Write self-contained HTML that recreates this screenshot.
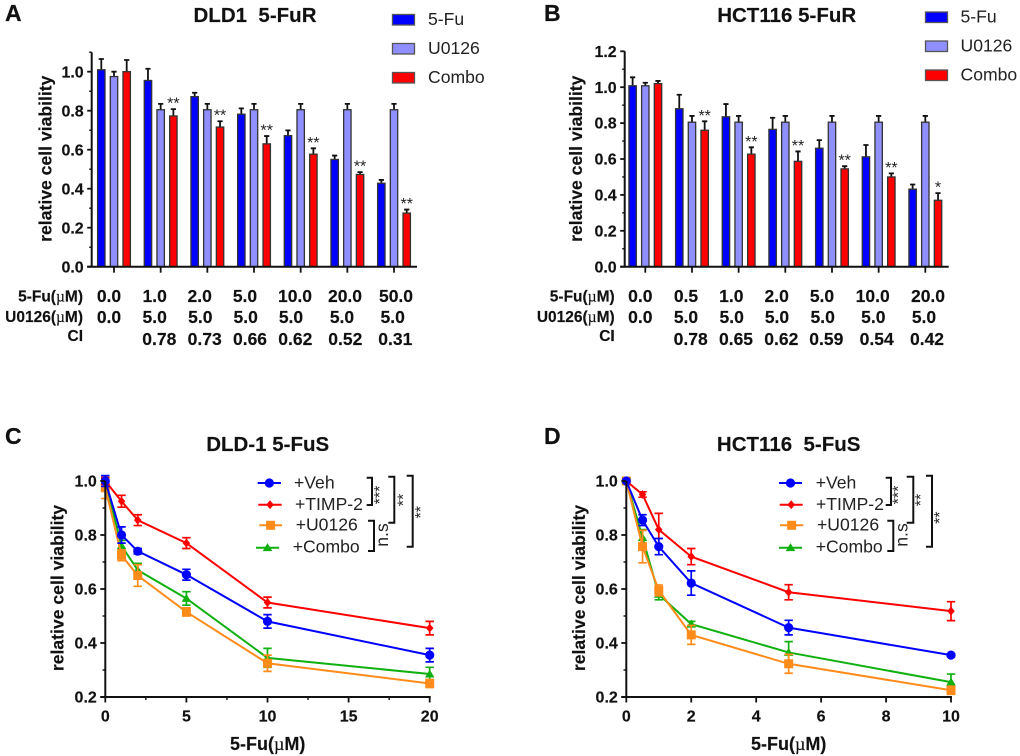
<!DOCTYPE html>
<html lang="en">
<head>
<meta charset="utf-8">
<title>Cell viability charts</title>
<style>
html,body{margin:0;padding:0;background:#fff;}
svg{display:block;font-family:"Liberation Sans",Arial,sans-serif;}
.mu{font-family:"Liberation Serif",serif;font-weight:normal;}
.t{font-size:20.5px;font-weight:bold;text-anchor:middle;fill:#111;stroke:#111;stroke-width:.15;}
.p{font-size:23px;font-weight:bold;fill:#111;stroke:#111;stroke-width:.2;}
.yt{font-size:17.6px;font-weight:bold;text-anchor:middle;fill:#111;stroke:#111;stroke-width:.15;}
.xt{font-size:18px;font-weight:bold;text-anchor:middle;fill:#111;stroke:#111;stroke-width:.15;}
.r{font-size:15.5px;font-weight:bold;text-anchor:end;fill:#111;stroke:#111;stroke-width:.15;}
.c{font-size:17.5px;font-weight:bold;text-anchor:middle;fill:#111;stroke:#111;stroke-width:.15;}
.l{font-size:17.6px;fill:#222;}
.s{font-size:16px;fill:#222;text-anchor:middle;}
.br{fill:none;stroke:#111;stroke-width:2;}
</style>
</head>
<body>
<svg id="figure" xmlns="http://www.w3.org/2000/svg" width="1020" height="756" viewBox="0 0 1020 756">
<rect width="1020" height="756" fill="#fff"/>

<text class="p" x="5" y="21">A</text>
<text class="p" x="544" y="21">B</text>
<text class="p" x="5" y="444">C</text>
<text class="p" x="544" y="444">D</text>

<text class="t" x="255" y="22" style="white-space:pre">DLD1  5-FuR</text>
<text class="t" x="786.7" y="22">HCT116 5-FuR</text>
<text class="t" x="267.7" y="451">DLD-1 5-FuS</text>
<text class="t" x="788.7" y="451" style="white-space:pre">HCT116  5-FuS</text>

<text class="yt" transform="translate(51.7 158.7) rotate(-90)">relative cell viability</text>
<text class="yt" transform="translate(582 158.7) rotate(-90)">relative cell viability</text>
<text class="yt" transform="translate(63.3 588) rotate(-90)">relative cell viability</text>
<text class="yt" transform="translate(585 588) rotate(-90)">relative cell viability</text>

<text class="xt" x="267.7" y="750">5-Fu(<tspan class="mu">µ</tspan>M)</text>
<text class="xt" x="788.7" y="750">5-Fu(<tspan class="mu">µ</tspan>M)</text>

<!-- Panel A legend -->
<g>
<rect x="392.5" y="14.5" width="22" height="10.5" fill="#0000ff" stroke="#555" stroke-width="1.3"/>
<rect x="392.5" y="43.5" width="22" height="10.5" fill="#8f8fff" stroke="#555" stroke-width="1.3"/>
<rect x="392.5" y="72.5" width="22" height="10.5" fill="#ff0000" stroke="#555" stroke-width="1.3"/>
<text class="l" x="428" y="25">5-Fu</text>
<text class="l" x="428" y="54">U0126</text>
<text class="l" x="428" y="83">Combo</text>
</g>

<!-- Panel B legend -->
<g>
<rect x="925.5" y="12" width="22" height="10.5" fill="#0000ff" stroke="#555" stroke-width="1.3"/>
<rect x="925.5" y="41" width="22" height="10.5" fill="#8f8fff" stroke="#555" stroke-width="1.3"/>
<rect x="925.5" y="70" width="22" height="10.5" fill="#ff0000" stroke="#555" stroke-width="1.3"/>
<text class="l" x="960.5" y="22.7">5-Fu</text>
<text class="l" x="960.5" y="51.7">U0126</text>
<text class="l" x="960.5" y="80.7">Combo</text>
</g>

<!-- Panel A dose table -->
<g>
<text class="r" x="83" y="301.5">5-Fu(<tspan class="mu">µ</tspan>M)</text>
<text class="r" x="83" y="322">U0126(<tspan class="mu">µ</tspan>M)</text>
<text class="r" x="83" y="341">CI</text>
<g>
<text class="c" x="109" y="302">0.0</text>
<text class="c" x="154.7" y="302">1.0</text>
<text class="c" x="199.7" y="302">2.0</text>
<text class="c" x="245" y="302">5.0</text>
<text class="c" x="295" y="302">10.0</text>
<text class="c" x="345" y="302">20.0</text>
<text class="c" x="396" y="302">50.0</text>
</g>
<g>
<text class="c" x="109" y="323">0.0</text>
<text class="c" x="154.7" y="323">5.0</text>
<text class="c" x="200.3" y="323">5.0</text>
<text class="c" x="245.7" y="323">5.0</text>
<text class="c" x="291" y="323">5.0</text>
<text class="c" x="342" y="323">5.0</text>
<text class="c" x="392.7" y="323">5.0</text>
</g>
<g>
<text class="c" x="159.3" y="345">0.78</text>
<text class="c" x="204.7" y="345">0.73</text>
<text class="c" x="250" y="345">0.66</text>
<text class="c" x="295.3" y="345">0.62</text>
<text class="c" x="345.3" y="345">0.52</text>
<text class="c" x="395.3" y="345">0.31</text>
</g>
</g>

<!-- Panel B dose table -->
<g>
<text class="r" x="614.7" y="301.5">5-Fu(<tspan class="mu">µ</tspan>M)</text>
<text class="r" x="614.7" y="322">U0126(<tspan class="mu">µ</tspan>M)</text>
<text class="r" x="614.7" y="341">CI</text>
<g>
<text class="c" x="640.3" y="302">0.0</text>
<text class="c" x="686" y="302">0.5</text>
<text class="c" x="731.3" y="302">1.0</text>
<text class="c" x="776.7" y="302">2.0</text>
<text class="c" x="822" y="302">5.0</text>
<text class="c" x="872.7" y="302">10.0</text>
<text class="c" x="928" y="302">20.0</text>
</g>
<g>
<text class="c" x="640.3" y="323">0.0</text>
<text class="c" x="686" y="323">5.0</text>
<text class="c" x="731.7" y="323">5.0</text>
<text class="c" x="777" y="323">5.0</text>
<text class="c" x="822.7" y="323">5.0</text>
<text class="c" x="873.3" y="323">5.0</text>
<text class="c" x="924" y="323">5.0</text>
</g>
<g>
<text class="c" x="690.7" y="345">0.78</text>
<text class="c" x="736" y="345">0.65</text>
<text class="c" x="781.3" y="345">0.62</text>
<text class="c" x="826.3" y="345">0.59</text>
<text class="c" x="876.7" y="345">0.54</text>
<text class="c" x="927" y="345">0.42</text>
</g>
</g>

<!-- Panel C legend labels and brackets -->
<g>
<text class="l" x="294" y="488.7">+Veh</text>
<text class="l" x="295" y="510">+TIMP-2</text>
<text class="l" x="295.7" y="530.7">+U0126</text>
<text class="l" x="292.7" y="552.7">+Combo</text>
</g>
<g>
<path class="br" d="M366.7 477.7H372V505H366.7"/>
<path class="br" d="M388.3 476.7H394.3V522.7H388.3"/>
<path class="br" d="M406.7 475.7H412.7V546.7H406.7"/>
<path class="br" d="M368 520.7H374V551H368"/>
<text class="s" transform="translate(385 495) rotate(-90)">***</text>
<text class="s" transform="translate(408.5 500) rotate(-90)">**</text>
<text class="s" transform="translate(426 512.3) rotate(-90)">**</text>
<text class="l" text-anchor="middle" transform="translate(388 535) rotate(-90)">n.s</text>
</g>

<!-- Panel D legend labels and brackets -->
<g>
<text class="l" x="815.7" y="488.7">+Veh</text>
<text class="l" x="816" y="510">+TIMP-2</text>
<text class="l" x="817" y="530.7">+U0126</text>
<text class="l" x="815.7" y="552.7">+Combo</text>
</g>
<g>
<path class="br" d="M885.7 477.7H891V505H885.7"/>
<path class="br" d="M906.7 476.7H913.3V522.7H906.7"/>
<path class="br" d="M926 475.7H932V546.7H926"/>
<path class="br" d="M887.3 520.7H893.3V551H887.3"/>
<text class="s" transform="translate(903.5 495) rotate(-90)">***</text>
<text class="s" transform="translate(926 500) rotate(-90)">**</text>
<text class="s" transform="translate(945 517.7) rotate(-90)">**</text>
<text class="l" text-anchor="middle" transform="translate(907.3 535) rotate(-90)">n.s</text>
</g>
</svg>

<script>
// Panel A data
const aCategories = ["0.0", "1.0", "2.0", "5.0", "10.0", "20.0", "50.0"];
const aFuValues = [1.01, 0.955, 0.872, 0.782, 0.672, 0.55, 0.428];
const aFuErrors = [0.055, 0.06, 0.02, 0.03, 0.027, 0.02, 0.017];
const aU0126Values = [0.975, 0.805, 0.805, 0.805, 0.805, 0.805, 0.805];
const aU0126Errors = [0.025, 0.03, 0.03, 0.03, 0.03, 0.03, 0.03];
const aComboValues = [1.0, 0.773, 0.716, 0.63, 0.577, 0.473, 0.275];
const aComboErrors = [0.06, 0.035, 0.03, 0.04, 0.03, 0.012, 0.018];
const aStars = ["", "**", "**", "**", "**", "**", "**"];
const aYTicks = ["0.0", "0.2", "0.4", "0.6", "0.8", "1.0"];

// Panel B data
const bCategories = ["0.0", "0.5", "1.0", "2.0", "5.0", "10.0", "20.0"];
const bFuValues = [1.008, 0.88, 0.835, 0.765, 0.66, 0.612, 0.432];
const bFuErrors = [0.047, 0.078, 0.071, 0.065, 0.045, 0.066, 0.026];
const bU0126Values = [1.008, 0.805, 0.805, 0.805, 0.805, 0.805, 0.805];
const bU0126Errors = [0.017, 0.035, 0.035, 0.035, 0.035, 0.035, 0.035];
const bComboValues = [1.02, 0.76, 0.627, 0.587, 0.545, 0.5, 0.37];
const bComboErrors = [0.015, 0.05, 0.038, 0.055, 0.015, 0.02, 0.04];
const bStars = ["", "**", "**", "**", "**", "**", "*"];
const bYTicks = ["0.0", "0.2", "0.4", "0.6", "0.8", "1.0", "1.2"];

// Panel C data
const cDoses = [0, 1, 2, 5, 10, 20];
const cVehValues = [1.0, 0.80, 0.74, 0.653, 0.48, 0.355];
const cVehErrors = [0.02, 0.03, 0.01, 0.02, 0.025, 0.025];
const cTimpValues = [1.0, 0.925, 0.855, 0.77, 0.55, 0.455];
const cTimpErrors = [0.012, 0.022, 0.02, 0.02, 0.02, 0.025];
const cU0126Values = [0.975, 0.725, 0.65, 0.515, 0.325, 0.25];
const cU0126Errors = [0.04, 0.02, 0.04, 0.015, 0.03, 0.015];
const cComboValues = [1.0, 0.76, 0.67, 0.565, 0.345, 0.285];
const cComboErrors = [0.01, 0.02, 0.025, 0.025, 0.035, 0.025];
const cXTicks = [0, 5, 10, 15, 20];
const cXMinorTicks = [2.5, 7.5, 12.5, 17.5];

// Panel D data
const dDoses = [0, 0.5, 1, 2, 5, 10];
const dVehValues = [1.0, 0.855, 0.757, 0.622, 0.457, 0.355];
const dVehErrors = [0.005, 0.02, 0.03, 0.045, 0.027, 0.005];
const dTimpValues = [1.0, 0.95, 0.82, 0.72, 0.588, 0.518];
const dTimpErrors = [0.005, 0.01, 0.06, 0.03, 0.028, 0.035];
const dU0126Values = [1.0, 0.757, 0.595, 0.43, 0.323, 0.225];
const dU0126Errors = [0.005, 0.06, 0.02, 0.035, 0.035, 0.015];
const dComboValues = [1.0, 0.79, 0.58, 0.47, 0.365, 0.255];
const dComboErrors = [0.005, 0.03, 0.02, 0.01, 0.04, 0.03];
const dXTicks = [0, 2, 4, 6, 8, 10];
const dXMinorTicks = [];
const lineYTicks = ["0.2", "0.4", "0.6", "0.8", "1.0"];
const lineYMinorTicks = [0.3, 0.5, 0.7, 0.9];

const NS = "http://www.w3.org/2000/svg";
const figure = document.getElementById("figure");

function make(tag, attrs, parent, text) {
  const el = document.createElementNS(NS, tag);
  for (const k in attrs) el.setAttribute(k, attrs[k]);
  if (text !== undefined) el.textContent = text;
  parent.appendChild(el);
  return el;
}

function drawBarPanel(cfg) {
  const g = make("g", {}, figure);
  
  
  const y = v => cfg.y0 - v * cfg.yScale;
  const x = i => cfg.x0 + i * cfg.step;

  cfg.series.forEach((s, si) => {
    s.values.forEach((v, i) => {
      const bx = x(i) + (si - 1) * 12.7;
      const err = make("path", {
        d: "M" + bx + " " + y(v) + "V" + y(v + s.errors[i]) + "M" + (bx - 2.6) + " " + y(v + s.errors[i]) + "H" + (bx + 2.6),
        stroke: "#111", "stroke-width": 1.8, fill: "none"
      }, g);
      
      
      const bar = make("rect", {
        x: bx - 3.7, y: y(v), width: 7.4, height: cfg.y0 - y(v),
        fill: s.color, stroke: "#333", "stroke-width": 1.3
      }, g);
      
      
      if (s.stars && s.stars[i]) {
        const star = make("text", {
          x: bx, y: y(v + s.errors[i]) - 0.5, "text-anchor": "middle",
          "font-size": 16, fill: "#222"
        }, g, s.stars[i]);
        
        
      }
    });
  });

  const axes = make("path", {
    d: "M" + cfg.axisX + " " + (cfg.y0 + 1) + "V" + y(cfg.yMax) + "M" + (cfg.axisX - 4.5) + " " + cfg.y0 + "H" + cfg.xEnd,
    stroke: "#111", "stroke-width": 2, fill: "none"
  }, g);
  
  

  cfg.yTicks.forEach(label => {
    const v = parseFloat(label);
    const tick = make("path", { d: "M" + (cfg.axisX - 4.5) + " " + y(v) + "H" + cfg.axisX, stroke: "#111", "stroke-width": 1.8 }, g);
    
    
    const t = make("text", { x: cfg.axisX - 8, y: y(v) + 5.6, "text-anchor": "end", "font-size": 16, "font-weight": "bold", fill: "#111", stroke: "#111", "stroke-width": 0.15 }, g, label);
    
    
    const minorV = v + 0.1;
    if (minorV <= cfg.yMax + 0.001) {
      const minor = make("path", { d: "M" + (cfg.axisX - 2.5) + " " + y(minorV) + "H" + cfg.axisX, stroke: "#111", "stroke-width": 1.4 }, g);
      
      
    }
  });

  cfg.categories.forEach((c, i) => {
    const tick = make("path", { d: "M" + x(i) + " " + cfg.y0 + "v6", stroke: "#111", "stroke-width": 1.8 }, g);
    
    
  });
}

function marker(kind, cx, cy, color, parent) {
  let m;
  if (kind === "circle") m = make("circle", { cx: cx, cy: cy, r: 4.6, fill: color }, parent);
  if (kind === "diamond") m = make("path", { d: "M" + cx + " " + (cy - 4.4) + "L" + (cx + 3.8) + " " + cy + "L" + cx + " " + (cy + 4.4) + "L" + (cx - 3.8) + " " + cy + "Z", fill: color }, parent);
  if (kind === "square") m = make("rect", { x: cx - 4.5, y: cy - 4.5, width: 9, height: 9, fill: color }, parent);
  if (kind === "triangle") m = make("path", { d: "M" + cx + " " + (cy - 4.6) + "L" + (cx + 4.8) + " " + (cy + 3.4) + "L" + (cx - 4.8) + " " + (cy + 3.4) + "Z", fill: color }, parent);
  
  
  return m;
}

function drawLinePanel(cfg) {
  const g = make("g", {}, figure);
  
  
  const y = v => cfg.y0 - (v - 0.2) * 270;
  const x = v => cfg.x0 + v * cfg.xScale;

  cfg.series.forEach(s => {
    const sg = make("g", {}, g);
    
    
    const line = make("polyline", {
      points: s.values.map((v, i) => x(cfg.doses[i]) + "," + y(v)).join(" "),
      fill: "none", stroke: s.color, "stroke-width": 2
    }, sg);
    
    
    s.values.forEach((v, i) => {
      const px = x(cfg.doses[i]);
      const hi = y(v + s.errors[i]);
      const lo = y(v - s.errors[i]);
      const err = make("path", {
        d: "M" + px + " " + hi + "V" + lo + "M" + (px - 4.2) + " " + hi + "H" + (px + 4.2) + "M" + (px - 4.2) + " " + lo + "H" + (px + 4.2),
        stroke: s.color, "stroke-width": 1.7, fill: "none"
      }, sg);
      
      
      marker(s.marker, px, y(v), s.color, sg);
    });
  });

  const axes = make("path", {
    d: "M" + cfg.x0 + " " + cfg.y0 + "V" + y(1.0) + "M" + (cfg.x0 - 5) + " " + cfg.y0 + "H" + (x(cfg.xTicks[cfg.xTicks.length - 1]) + 1),
    stroke: "#111", "stroke-width": 2, fill: "none"
  }, g);
  
  

  lineYTicks.forEach(label => {
    const v = parseFloat(label);
    const tick = make("path", { d: "M" + (cfg.x0 - 5) + " " + y(v) + "H" + cfg.x0, stroke: "#111", "stroke-width": 1.8 }, g);
    
    
    const t = make("text", { x: cfg.x0 - 8.5, y: y(v) + 5.6, "text-anchor": "end", "font-size": 16, "font-weight": "bold", fill: "#111", stroke: "#111", "stroke-width": 0.15 }, g, label);
    
    
  });
  lineYMinorTicks.forEach(v => {
    const tick = make("path", { d: "M" + (cfg.x0 - 2.8) + " " + y(v) + "H" + cfg.x0, stroke: "#111", "stroke-width": 1.4 }, g);
    
    
  });
  cfg.xTicks.forEach(v => {
    const tick = make("path", { d: "M" + x(v) + " " + cfg.y0 + "v5.5", stroke: "#111", "stroke-width": 1.8 }, g);
    
    
    const t = make("text", { x: x(v), y: cfg.y0 + 24.7, "text-anchor": "middle", "font-size": 16, "font-weight": "bold", fill: "#111", stroke: "#111", "stroke-width": 0.15 }, g, String(v));
    
    
  });
  cfg.xMinorTicks.forEach(v => {
    const tick = make("path", { d: "M" + x(v) + " " + cfg.y0 + "v3", stroke: "#111", "stroke-width": 1.4 }, g);
    
    
  });

  cfg.series.forEach(s => {
    const l = s.legend;
    const ln = make("path", { d: "M" + l[0] + " " + l[2] + "H" + l[1], stroke: s.color, "stroke-width": 2 }, g);
    
    
    marker(s.marker, (l[0] + l[1]) / 2, l[2], s.color, g);
  });
}

drawBarPanel({
  name: "bar-chart-a", x0: 114, step: 46.67, y0: 266.7, yScale: 195, yMax: 1.1,
  axisX: 91.7, xEnd: 417, categories: aCategories, yTicks: aYTicks,
  series: [
    { key: "5fu", color: "#0000ff", values: aFuValues, errors: aFuErrors },
    { key: "u0126", color: "#8f8fff", values: aU0126Values, errors: aU0126Errors },
    { key: "combo", color: "#ff0000", values: aComboValues, errors: aComboErrors, stars: aStars }
  ]
});
drawBarPanel({
  name: "bar-chart-b", x0: 645.3, step: 46.67, y0: 266.7, yScale: 179.5, yMax: 1.2,
  axisX: 624.7, xEnd: 948.7, categories: bCategories, yTicks: bYTicks,
  series: [
    { key: "5fu", color: "#0000ff", values: bFuValues, errors: bFuErrors },
    { key: "u0126", color: "#8f8fff", values: bU0126Values, errors: bU0126Errors },
    { key: "combo", color: "#ff0000", values: bComboValues, errors: bComboErrors, stars: bStars }
  ]
});
drawLinePanel({
  name: "line-chart-c", x0: 105.3, xScale: 16.22, y0: 697,
  doses: cDoses, xTicks: cXTicks, xMinorTicks: cXMinorTicks,
  series: [
    { key: "combo", color: "#10b010", marker: "triangle", values: cComboValues, errors: cComboErrors, legend: [256, 279, 547.7] },
    { key: "u0126", color: "#ff8c1a", marker: "square", values: cU0126Values, errors: cU0126Errors, legend: [259.3, 282, 525.3] },
    { key: "timp2", color: "#ff0000", marker: "diamond", values: cTimpValues, errors: cTimpErrors, legend: [258.3, 281.7, 504.7] },
    { key: "veh", color: "#0000ff", marker: "circle", values: cVehValues, errors: cVehErrors, legend: [257.7, 281, 483] }
  ]
});
drawLinePanel({
  name: "line-chart-d", x0: 626.3, xScale: 32.47, y0: 697,
  doses: dDoses, xTicks: dXTicks, xMinorTicks: dXMinorTicks,
  series: [
    { key: "combo", color: "#10b010", marker: "triangle", values: dComboValues, errors: dComboErrors, legend: [779, 802, 547.7] },
    { key: "u0126", color: "#ff8c1a", marker: "square", values: dU0126Values, errors: dU0126Errors, legend: [780, 803.3, 525.3] },
    { key: "timp2", color: "#ff0000", marker: "diamond", values: dTimpValues, errors: dTimpErrors, legend: [779.7, 802.7, 504.7] },
    { key: "veh", color: "#0000ff", marker: "circle", values: dVehValues, errors: dVehErrors, legend: [779, 802, 483] }
  ]
});
</script>
</body>
</html>
